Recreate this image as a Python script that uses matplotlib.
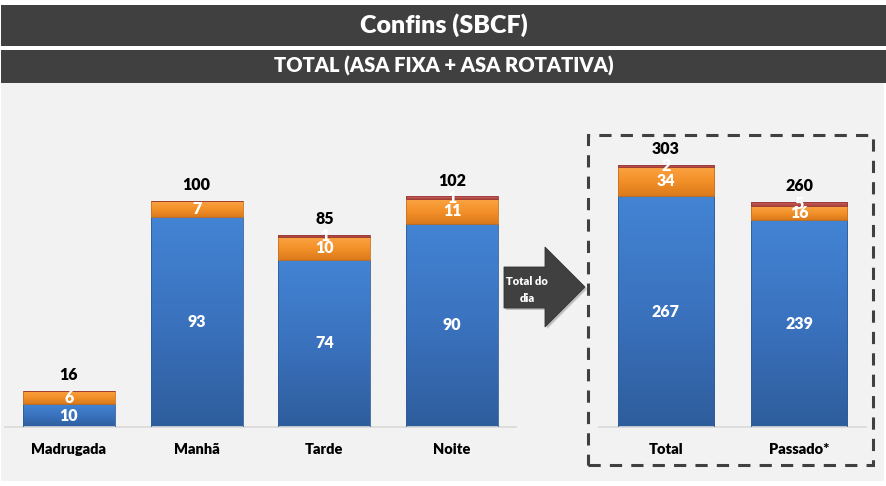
import matplotlib
matplotlib.use("Agg")
import matplotlib.pyplot as plt
import numpy as np
from matplotlib.patches import Rectangle, Polygon
from matplotlib.colors import LinearSegmentedColormap

plt.rcParams['font.family'] = ['Lato', 'DejaVu Sans']

title = "Confins (SBCF)"
subtitle = "TOTAL (ASA FIXA + ASA ROTATIVA)"

periods = ["Madrugada", "Manhã", "Tarde", "Noite"]
period_blue = [10, 93, 74, 90]
period_orange = [6, 7, 10, 11]
period_red = [0, 0, 1, 1]

day_cats = ["Total", "Passado*"]
day_blue = [267, 239]
day_orange = [34, 16]
day_red = [2, 5]

arrow_text = "Total do\ndia"

W, H = 887, 486
fig = plt.figure(figsize=(W / 100, H / 100), dpi=100, facecolor="white")
WT = "heavy"


def fx(x):
    return x / W


def fy(y):
    return (H - y) / H


# background panel and title bars
fig.patches.append(Rectangle((fx(1), fy(481)), fx(883), (481 - 83) / H,
                             transform=fig.transFigure, facecolor="#F2F2F2",
                             edgecolor="none", zorder=-5))
fig.patches.append(Rectangle((fx(1), fy(46)), fx(886), 41 / H,
                             transform=fig.transFigure, facecolor="#404040",
                             edgecolor="none", zorder=-4))
fig.patches.append(Rectangle((fx(1), fy(83)), fx(886), 33 / H,
                             transform=fig.transFigure, facecolor="#404040",
                             edgecolor="none", zorder=-4))
fig.text(fx(444), fy(25.5), title, color="white", fontsize=18, fontweight=WT,
         ha="center", va="center")
fig.text(fx(444), fy(66), subtitle, color="white", fontsize=14.5, fontweight=WT,
         ha="center", va="center")

cmaps = {
    "blue": LinearSegmentedColormap.from_list("b", ["#2E5D9C", "#3A72BE", "#4384D4"]),
    "orange": LinearSegmentedColormap.from_list("o", ["#DB7A1C", "#F39028", "#FBA444"]),
    "red": LinearSegmentedColormap.from_list("r", ["#A94442", "#C0504D", "#E08A88"]),
}
edges = {"blue": "#2F5D98", "orange": "#C8721E", "red": "#953735"}


def gradient_bars(ax, x, heights, bottoms, width, key):
    bars = ax.bar(x, heights, width, bottom=bottoms, color="none",
                  edgecolor=edges[key], linewidth=0.6, zorder=3)
    grad = np.linspace(0, 1, 256).reshape(-1, 1)
    for b in bars:
        if b.get_height() <= 0:
            continue
        x0, y0 = b.get_x(), b.get_y()
        im = ax.imshow(grad, cmap=cmaps[key], origin="lower", aspect="auto",
                       extent=(x0, x0 + b.get_width(), y0, y0 + b.get_height()),
                       zorder=2)
        im.set_clip_path(b)
    return bars


def draw_chart(ax, cats, blue, orange, red, ymax):
    x = np.arange(len(cats))
    blue = np.array(blue)
    orange = np.array(orange)
    red = np.array(red)
    w = 0.72
    gradient_bars(ax, x, blue, 0, w, "blue")
    gradient_bars(ax, x, orange, blue, w, "orange")
    gradient_bars(ax, x, red, blue + orange, w, "red")
    ax.set_xlim(-0.5, len(cats) - 0.5)
    ax.set_ylim(0, ymax)
    ax.set_facecolor("none")
    for s in ["top", "right", "left"]:
        ax.spines[s].set_visible(False)
    ax.spines["bottom"].set_color("#D9D9D9")
    ax.spines["bottom"].set_linewidth(1.2)
    ax.set_xticks([])
    ax.set_yticks([])
    tot = blue + orange + red
    for i in range(len(cats)):
        segs = [(0, blue[i]), (blue[i], orange[i]), (blue[i] + orange[i], red[i])]
        for b0, h in segs:
            if h > 0:
                ax.text(x[i], b0 + h / 2, f"{h}", color="white", fontsize=11.5,
                        fontweight=WT, ha="center", va="center", zorder=5)
        ax.annotate(f"{tot[i]}", (x[i], tot[i]), xytext=(0, 11.5),
                    textcoords="offset points", ha="center", va="center",
                    fontsize=11.5, fontweight=WT, color="black", zorder=5)
        ax.annotate(cats[i], (x[i], 0), xycoords=("data", "axes fraction"),
                    xytext=(0, -16), textcoords="offset points", ha="center",
                    va="center", fontsize=10.5, fontweight=WT, color="black")


base = 427
ax1 = fig.add_axes([fx(5), fy(base), fx(511), 2.26 * 110 / H])
draw_chart(ax1, periods, period_blue, period_orange, period_red, 110)

ax2 = fig.add_axes([fx(599), fy(base), fx(267), 0.865 * 330 / H])
draw_chart(ax2, day_cats, day_blue, day_orange, day_red, 330)

# arrow
pts = [(504, 267), (545, 267), (545, 247), (585, 287), (545, 327), (545, 308), (504, 308)]
shadow = Polygon([(fx(px + 2), fy(py + 2)) for px, py in pts], closed=True,
                 transform=fig.transFigure, facecolor="#BFBFBF", edgecolor="none",
                 zorder=2)
arrow = Polygon([(fx(px), fy(py)) for px, py in pts], closed=True,
                transform=fig.transFigure, facecolor="#404040", edgecolor="#333333",
                linewidth=0.6, zorder=3)
fig.patches.append(shadow)
fig.patches.append(arrow)
fig.text(fx(527), fy(290), arrow_text, color="white", fontsize=8,
         fontweight=WT, ha="center", va="center", linespacing=1.6, zorder=4)

# dashed box
fig.patches.append(Rectangle((fx(588), fy(465)), fx(285), (465 - 135) / H,
                             transform=fig.transFigure, facecolor="none",
                             edgecolor="#404040", linewidth=2.2,
                             linestyle=(0, (4, 3)), zorder=4))

fig.savefig("out.png", dpi=100, facecolor="white")
